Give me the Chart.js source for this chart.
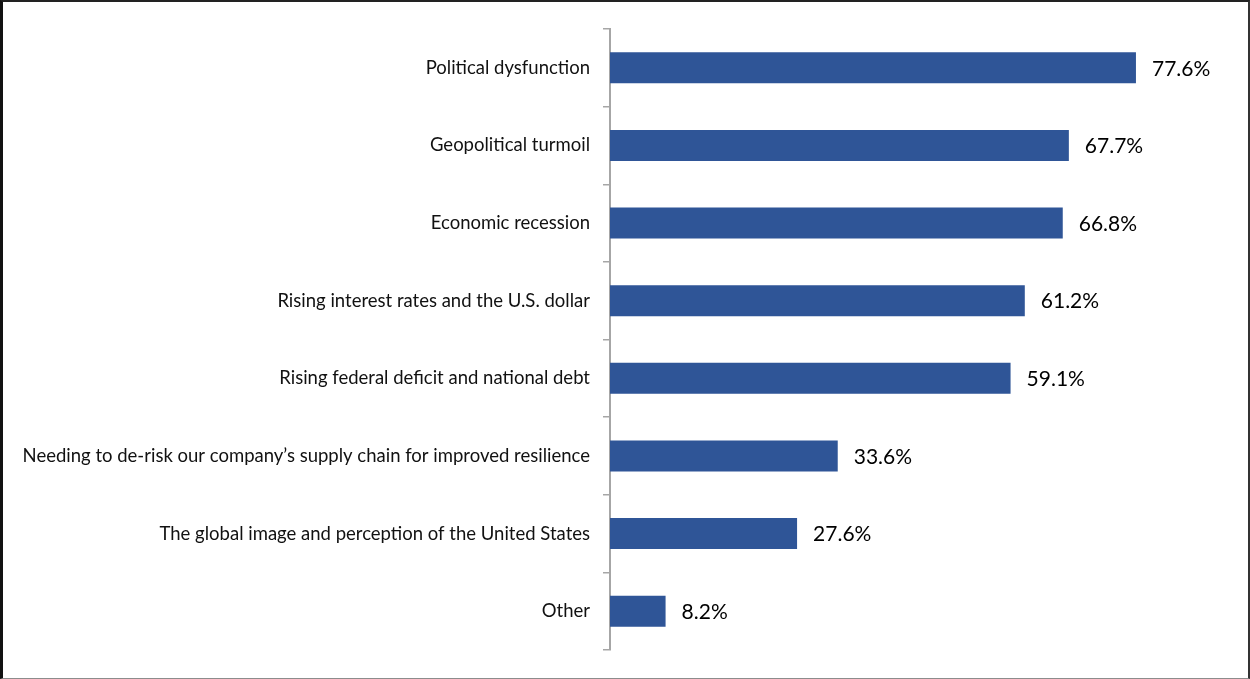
<!DOCTYPE html>
<html>
<head>
<meta charset="utf-8">
<script src="https://cdn.jsdelivr.net/npm/chart.js@4"></script>
<style>
  html, body { margin: 0; padding: 0; background: #fff; }
  #wrap { position: relative; width: 1250px; height: 679px; overflow: hidden; }
  #chart { position: absolute; left: 0; top: 0; }
  #frame {
    position: absolute; left: 0; top: 0; width: 1250px; height: 679px;
    box-sizing: border-box; pointer-events: none;
    border-left: 3px solid #111;
    border-top: 2px solid #222;
    border-right: 2px solid #333;
    border-bottom: 1px solid #8c8c8c;
  }
</style>
</head>
<body>
<div id="wrap">
  <canvas id="chart" width="1250" height="679"></canvas>
  <div id="frame"></div>
</div>
<script>
// Concerns and their share of respondents (%)
const categories = [
  "Political dysfunction",
  "Geopolitical turmoil",
  "Economic recession",
  "Rising interest rates and the U.S. dollar",
  "Rising federal deficit and national debt",
  "Needing to de-risk our company\u2019s supply chain for improved resilience",
  "The global image and perception of the United States",
  "Other"
];
const shares = [77.6, 67.7, 66.8, 61.2, 59.1, 33.6, 27.6, 8.2];
const shareLabels = ["77.6%", "67.7%", "66.8%", "61.2%", "59.1%", "33.6%", "27.6%", "8.2%"];

const FONT = "Lato, 'Liberation Sans', sans-serif";

// Writes the percentage to the right of each bar
const valueLabels = {
  id: "valueLabels",
  afterDatasetsDraw(chart) {
    const ctx = chart.ctx;
    const meta = chart.getDatasetMeta(0);
    ctx.save();
    ctx.font = "21px " + FONT;
    ctx.fillStyle = "#000";
    ctx.textAlign = "left";
    ctx.textBaseline = "middle";
    meta.data.forEach((bar, i) => {
      ctx.fillText(shareLabels[i], bar.x + 16, bar.y + 1);
    });
    ctx.restore();
  }
};

new Chart(document.getElementById("chart"), {
  type: "bar",
  data: {
    labels: categories,
    datasets: [{
      data: shares,
      backgroundColor: "#2F5597",
      borderWidth: 0,
      barPercentage: 0.4,
      categoryPercentage: 1.0
    }]
  },
  options: {
    indexAxis: "y",
    responsive: false,
    animation: false,
    layout: { padding: { top: 29, bottom: 29, left: 0, right: 30 } },
    plugins: {
      legend: { display: false },
      tooltip: { enabled: false }
    },
    scales: {
      x: {
        display: false,
        min: 0,
        max: 90
      },
      y: {
        afterFit(scale) { scale.width = 610; },
        grid: {
          offset: true,
          drawOnChartArea: false,
          drawTicks: true,
          tickLength: 7,
          color: "#a6a6a6",
          lineWidth: 1.5
        },
        border: { display: true, color: "#a6a6a6", width: 2 },
        ticks: {
          padding: 13,
          color: "#111",
          font: { family: FONT, size: 18.5 }
        }
      }
    }
  },
  plugins: [valueLabels]
});
</script>
</body>
</html>
